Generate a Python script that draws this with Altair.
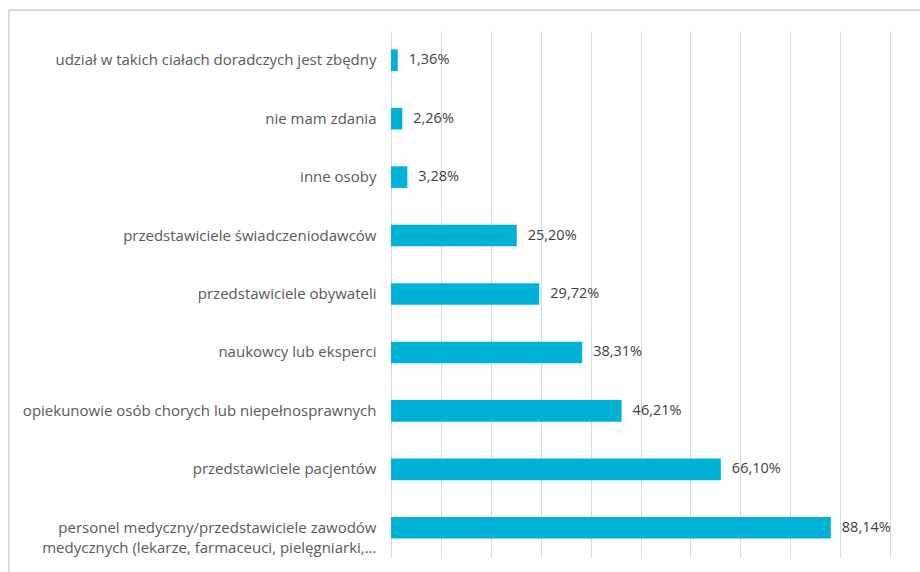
import altair as alt
import pandas as pd

categories = [
    "udział w takich ciałach doradczych jest zbędny",
    "nie mam zdania",
    "inne osoby",
    "przedstawiciele świadczeniodawców",
    "przedstawiciele obywateli",
    "naukowcy lub eksperci",
    "opiekunowie osób chorych lub niepełnosprawnych",
    "przedstawiciele pacjentów",
    "personel medyczny/przedstawiciele zawodów\nmedycznych (lekarze, farmaceuci, pielęgniarki,...",
]
values = [1.36, 2.26, 3.28, 25.20, 29.72, 38.31, 46.21, 66.10, 88.14]

df = pd.DataFrame({"cat": categories, "val": values})

FONT = "Open Sans"
TXT = "#595959"

base = alt.Chart(df).encode(
    y=alt.Y(
        "cat:N",
        sort=categories,
        title=None,
        scale=alt.Scale(paddingInner=0.63, paddingOuter=0.315),
        axis=alt.Axis(
            labelExpr="split(datum.label, '\\n')",
            labelFont=FONT,
            labelFontSize=15,
            labelColor=TXT,
            labelPadding=15,
            labelLimit=400,
            ticks=False,
            domain=False,
            grid=False,
            labelLineHeight=20,
        ),
    )
)

bars = base.mark_bar(color="#00B3D6").encode(
    x=alt.X(
        "val:Q",
        scale=alt.Scale(domain=[0, 100], nice=False),
        axis=alt.Axis(
            values=list(range(0, 101, 10)),
            labels=False,
            ticks=False,
            domain=False,
            grid=True,
            gridColor="#D9D9D9",
            gridWidth=1,
            title=None,
        ),
    )
)

texts = base.mark_text(
    align="left", baseline="middle", dx=11, font=FONT, fontSize=14.5, color="#404040"
).transform_calculate(
    lbl="replace(format(datum.val, '.2f'), '.', ',') + '%'"
).encode(x="val:Q", text="lbl:N")

border = alt.Chart(df).mark_rect(fill=None, stroke="#D9D9D9", strokeWidth=1).encode(
    x=alt.value(9 - 391),
    x2=alt.value(1000 - 391),
    y=alt.value(10 - 31),
    y2=alt.value(600 - 31),
)

chart = (
    alt.layer(border, bars, texts)
    .properties(
        width=499,
        height=526,
        autosize=alt.AutoSizeParams(type="none"),
        padding={"left": 391, "top": 31, "right": 30, "bottom": 15},
        background="white",
    )
    .configure_view(stroke=None)
)

chart.save("out.html", embed_options={"renderer": "svg", "actions": False})
